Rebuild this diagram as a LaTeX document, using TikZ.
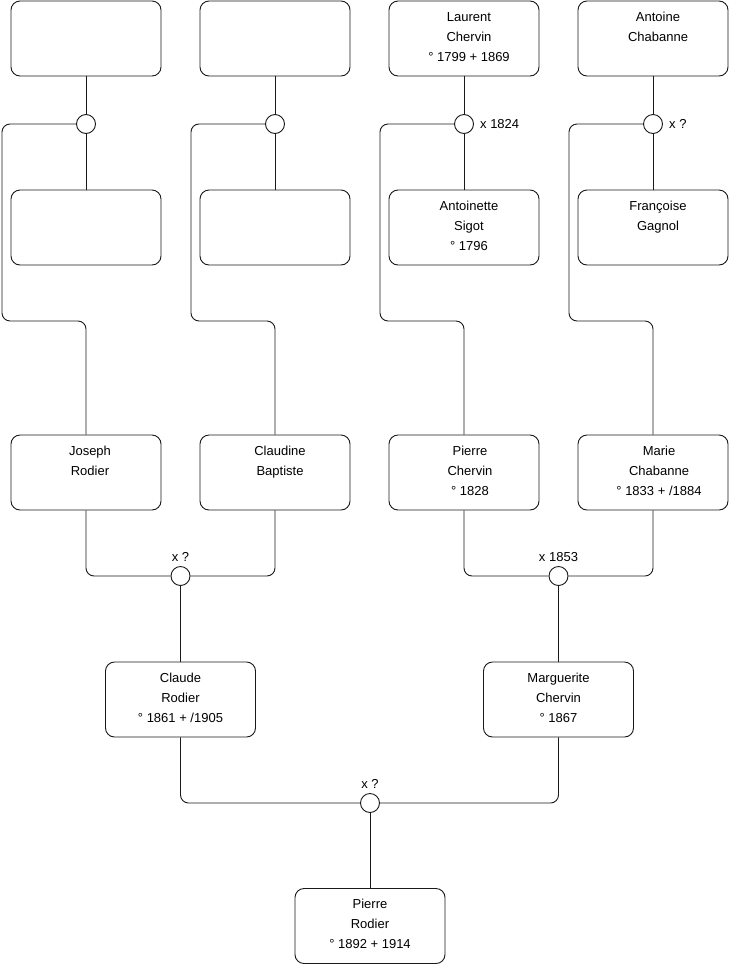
\documentclass[tikz,border=0pt]{standalone}
\usepackage{fontspec}
\setmainfont{Liberation Sans}
\usetikzlibrary{calc}
\tikzset{
  pbox/.style={draw=black!90, line width=0.9pt, rounded corners=9pt, minimum width=150pt, minimum height=75pt, inner sep=0pt, fill=white},
  ptext/.style={anchor=base, inner sep=0pt, font=\fontsize{13}{20}\selectfont},
  marr/.style={draw=black!90, line width=0.9pt, circle, minimum size=19pt, inner sep=0pt, fill=white},
  link/.style={draw=black!90, line width=0.9pt, rounded corners=8pt},
  mlabel/.style={inner sep=0pt, font=\fontsize{13}{15}\selectfont},
}
\newcommand\personbox[5]{%
  \node[pbox] (#1) at (#2,#3) {};
  \node[ptext] (#1-t) at ([xshift=#4, yshift=-20.5pt]#1.north) {\parbox[t]{150pt}{\centering #5}};
}
\begin{document}
\begin{tikzpicture}[x=1pt,y=-1pt]
\useasboundingbox (0,0) rectangle (740,975);
% top row
\personbox{a1}{86}{38.5}{5pt}{}
\personbox{a2}{275}{38.5}{5pt}{}
\personbox{a3}{464}{38.5}{5pt}{Laurent\\Chervin\\° 1799 + 1869}
\personbox{a4}{653}{38.5}{5pt}{Antoine\\Chabanne}
% second row
\personbox{b1}{86}{227.5}{5pt}{}
\personbox{b2}{275}{227.5}{5pt}{}
\personbox{b3}{464}{227.5}{5pt}{Antoinette\\Sigot\\° 1796}
\personbox{b4}{653}{227.5}{5pt}{Françoise\\Gagnol}
% third row
\personbox{c1}{86}{472.5}{4pt}{Joseph\\Rodier}
\personbox{c2}{275}{472.5}{5pt}{Claudine\\Baptiste}
\personbox{c3}{464}{472.5}{6pt}{Pierre\\Chervin\\° 1828}
\personbox{c4}{653}{472.5}{6pt}{Marie\\Chabanne\\° 1833 + /1884}
% fourth row
\personbox{d1}{180.5}{699.5}{0pt}{Claude\\Rodier\\° 1861 + /1905}
\personbox{d2}{558.5}{699.5}{0pt}{Marguerite\\Chervin\\° 1867}
% bottom
\personbox{e}{370}{926}{0pt}{Pierre\\Rodier\\° 1892 + 1914}

% marriage circles
\node[marr] (m1) at (86,124) {};
\node[marr] (m2) at (275,124) {};
\node[marr] (m3) at (464,124) {};
\node[marr] (m4) at (653,124) {};
\node[marr] (m5) at (180.5,576) {};
\node[marr] (m6) at (558.5,576) {};
\node[marr] (m7) at (370,803) {};

% waypoints
\coordinate (w1) at (2,321);
\coordinate (w2) at (191,321);
\coordinate (w3) at (380,321);
\coordinate (w4) at (569,321);

% top couples
\draw[link] (a1) -- (m1); \draw[link] (m1) -- (b1);
\draw[link] (a2) -- (m2); \draw[link] (m2) -- (b2);
\draw[link] (a3) -- (m3); \draw[link] (m3) -- (b3);
\draw[link] (a4) -- (m4); \draw[link] (m4) -- (b4);

% to children
\draw[link] (m1.west) -| (w1) -| (c1.north);
\draw[link] (m2.west) -| (w2) -| (c2.north);
\draw[link] (m3.west) -| (w3) -| (c3.north);
\draw[link] (m4.west) -| (w4) -| (c4.north);

% third-row couples
\draw[link] (c1.south) |- (m5.west);
\draw[link] (c2.south) |- (m5.east);
\draw[link] (m5) -- (d1);
\draw[link] (c3.south) |- (m6.west);
\draw[link] (c4.south) |- (m6.east);
\draw[link] (m6) -- (d2);

% bottom couple
\draw[link] (d1.south) |- (m7.west);
\draw[link] (d2.south) |- (m7.east);
\draw[link] (m7) -- (e);

% labels
\node[mlabel, anchor=base west] (l3) at ([xshift=6pt, yshift=-4.6pt]m3.east) {x 1824};
\node[mlabel, anchor=base west] (l4) at ([xshift=6pt, yshift=-4.6pt]m4.east) {x ?};
\node[mlabel, anchor=base] (l5) at ([yshift=4.5pt]m5.north) {x ?};
\node[mlabel, anchor=base] (l6) at ([yshift=4.5pt]m6.north) {x 1853};
\node[mlabel, anchor=base] (l7) at ([yshift=4.5pt]m7.north) {x ?};
\end{tikzpicture}
\end{document}
